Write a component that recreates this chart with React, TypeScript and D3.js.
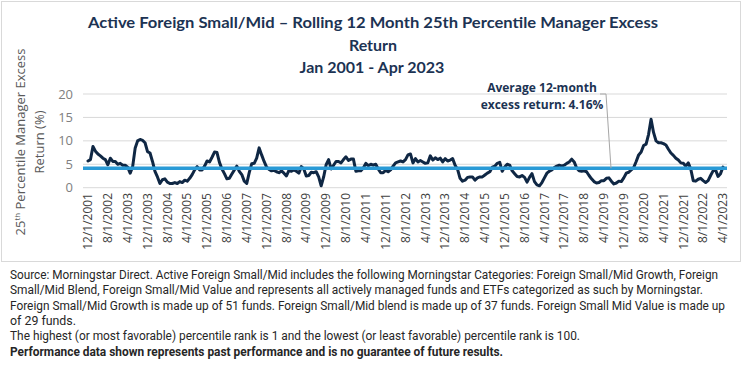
import * as d3 from "d3";

// monthly rolling 12m 25th percentile excess return (%), Dec 2001 .. Apr 2023
const startMonth = new Date(2001, 11, 1);
const excessReturn = [
  5.7, 6.0, 8.8, 7.8, 7.2, 6.8, 6.3, 6.0, 4.9, 6.3,
  5.6, 5.6, 5.0, 5.2, 4.8, 4.8, 4.4, 3.1, 4.5, 8.4,
  10.0, 10.3, 10.1, 9.6, 7.7, 7.4, 5.6, 3.5, 2.3, 0.9,
  1.7, 1.9, 1.2, 0.9, 0.9, 1.1, 0.9, 1.3, 1.1, 1.6,
  1.4, 2.0, 2.8, 3.8, 4.5, 3.8, 3.8, 4.6, 5.7, 5.5,
  6.5, 7.6,
  7.5, 5.4, 4.0, 3.0, 1.9, 2.0, 2.9, 3.8, 4.6, 3.5,
  2.8, 1.4, 0.9, 3.2, 5.1, 5.2, 6.3, 8.5, 7.0, 5.6,
  4.4, 3.9, 3.6, 3.7, 3.4, 3.2, 3.6, 3.1, 2.5, 3.7,
  3.5, 3.8, 3.5, 3.1, 4.5, 4.0, 2.5, 2.6, 3.3, 3.2,
  3.4, 2.3, 0.4, 2.3, 4.9, 6.0, 4.0, 4.8, 5.6, 5.6,
  5.3,
  6.0, 6.6, 5.8, 6.1, 6.1, 3.5, 3.6, 3.6, 4.2, 5.2,
  4.7, 5.0, 4.8, 5.0, 4.0, 3.2, 3.2, 3.7, 3.4, 3.8,
  4.6, 5.3, 5.5, 5.7, 5.5, 6.0, 7.0, 7.2, 5.3, 6.2,
  5.5, 5.8, 5.5, 5.2, 5.3, 6.8, 5.9, 6.4, 6.0, 6.3,
  5.5, 6.2, 5.7, 5.9, 6.2, 4.8, 3.9, 2.0, 1.4, 1.6,
  2.2, 2.3,
  2.3, 1.6, 2.1, 2.3, 2.3, 2.7, 3.1, 3.4, 4.4, 4.6,
  5.2, 5.4, 3.5, 4.4, 5.0, 4.8, 3.6, 3.0, 2.4, 2.3,
  2.6, 2.2, 1.2, 2.2, 3.0, 1.3, 0.6, 0.4, 1.1, 2.1,
  3.1, 3.5, 3.8, 4.3, 4.6, 4.8, 4.6, 4.8, 5.2, 5.5,
  6.1, 5.5, 4.2, 3.6, 3.5, 3.6, 3.4, 2.6, 1.9, 1.3,
  1.0,
  1.1, 1.5, 1.5, 2.0, 2.1, 1.4, 0.8, 1.0, 1.4, 1.3,
  2.1, 3.1, 3.3, 3.8, 4.3, 5.6, 7.0, 7.6, 9.0, 9.3,
  11.4, 14.6, 11.8, 10.0, 9.6, 9.6, 9.4, 9.1, 8.2, 7.4,
  6.9, 6.3, 5.9, 5.3, 5.2, 4.6, 5.3, 4.0, 1.5, 1.4,
  1.8, 2.0, 1.5, 1.1, 1.5, 2.6, 3.6, 3.8, 2.4, 3.0,
  4.4,
];
const averageReturn = 4.16;
const yTicks = [0, 5, 10, 15, 20];
const labelEvery = 8;

const titleLines = [
  "Active Foreign Small/Mid \u2013 Rolling 12 Month 25th Percentile Manager Excess",
  "Return",
  "Jan 2001 - Apr 2023",
];
const annotationLines = ["Average 12-month", "excess return: 4.16%"];
const footnotes = [
  { text: "Source: Morningstar Direct. Active Foreign Small/Mid includes the following Morningstar Categories: Foreign Small/Mid Growth, Foreign", w: 708 },
  { text: "Small/Mid Blend, Foreign Small/Mid Value and represents all actively managed funds and ETFs categorized as such by Morningstar.", w: 693 },
  { text: "Foreign Small/Mid Growth is made up of 51 funds. Foreign Small/Mid blend is made up of 37 funds. Foreign Small Mid Value is made up", w: 715 },
  { text: "of 29 funds.", w: 66 },
  { text: "The highest (or most favorable) percentile rank is 1 and the lowest (or least favorable) percentile rank is 100.", w: 570 },
  { text: "Performance data shown represents past performance and is no guarantee of future results.", w: 493, bold: true },
];

const navy = "#0f2744";
const titleColor = "#1c3353";
const avgColor = "#2a9ad6";

export default function App() {
  const width = 744;
  const height = 390;

  const x = d3.scaleLinear().domain([0, excessReturn.length - 1]).range([88, 723]);
  const y = d3.scaleLinear().domain([0, 20]).range([187.7, 94]);
  const fmt = d3.timeFormat("%-m/%-d/%Y");
  const tickIdx = d3.range(0, excessReturn.length, labelEvery);

  const line = d3
    .line<number>()
    .x((_, i) => x(i))
    .y((d) => y(d));

  return (
    <svg
      width={width}
      height={height}
      style={{ position: "absolute", left: 0, top: 0, background: "#fff" }}
    >
      <rect x={1.5} y={1.5} width={739} height={260} fill="#fff" stroke="#d9d9d9" />

      {/* title */}
      <g fontFamily="Lato" fontWeight={700} fontSize={16} fill={titleColor} textAnchor="middle">
        <text x={373} y={28} textLength={570} lengthAdjust="spacingAndGlyphs">
          {titleLines[0]}
        </text>
        <text x={373} y={51}>{titleLines[1]}</text>
        <text x={372} y={73}>{titleLines[2]}</text>
      </g>

      {/* grid + y ticks */}
      {yTicks.map((t) => (
        <g key={t}>
          <line x1={83} x2={727} y1={y(t)} y2={y(t)} stroke="#d9d9d9" strokeWidth={1} />
          <text
            x={73}
            y={y(t)}
            dy="0.35em"
            textAnchor="end"
            fontFamily="Open Sans"
            fontSize={13}
            fill="#808080"
          >
            {t}
          </text>
        </g>
      ))}

      {/* y axis title */}
      <g fontFamily="Open Sans" fontSize={13} fill="#595959" textAnchor="middle">
        <text transform={`translate(25,142) rotate(-90)`}>
          25<tspan fontSize={8} dy={-5}>th</tspan>
          <tspan dy={5}> Percentile Manager Excess</tspan>
        </text>
        <text transform={`translate(44,142) rotate(-90)`}>Return (%)</text>
      </g>

      {/* x labels */}
      {tickIdx.map((i) => (
        <text
          key={i}
          transform={`translate(${x(i)},193) rotate(-90)`}
          dy="0.35em"
          textAnchor="end"
          fontFamily="Open Sans"
          fontSize={12}
          fill="#404040"
        >
          {fmt(d3.timeMonth.offset(startMonth, i))}
        </text>
      ))}

      {/* series */}
      <path
        d={line(excessReturn) ?? ""}
        fill="none"
        stroke={navy}
        strokeWidth={3}
        strokeLinejoin="round"
        strokeLinecap="round"
      />
      <line
        x1={83}
        x2={727}
        y1={y(averageReturn)}
        y2={y(averageReturn)}
        stroke={avgColor}
        strokeWidth={3.5}
      />

      {/* callout */}
      <polyline
        points={`600,${y(20)} 606,${y(20)} 611,${y(averageReturn)}`}
        fill="none"
        stroke="#a6a6a6"
        strokeWidth={1}
      />
      <g fontFamily="Open Sans" fontWeight={700} fontSize={12} fill={titleColor} textAnchor="middle">
        <text x={542} y={92}>{annotationLines[0]}</text>
        <text x={542} y={109}>{annotationLines[1]}</text>
      </g>

      {/* footnotes */}
      <g fontFamily="Roboto" fontSize={12} fill="#262626">
        {footnotes.map((f, k) => (
          <text
            key={k}
            x={10}
            y={279 + k * 15.3}
            textLength={f.w}
            lengthAdjust="spacingAndGlyphs"
            fontWeight={f.bold ? 700 : 400}
          >
            {f.text}
          </text>
        ))}
      </g>
    </svg>
  );
}
